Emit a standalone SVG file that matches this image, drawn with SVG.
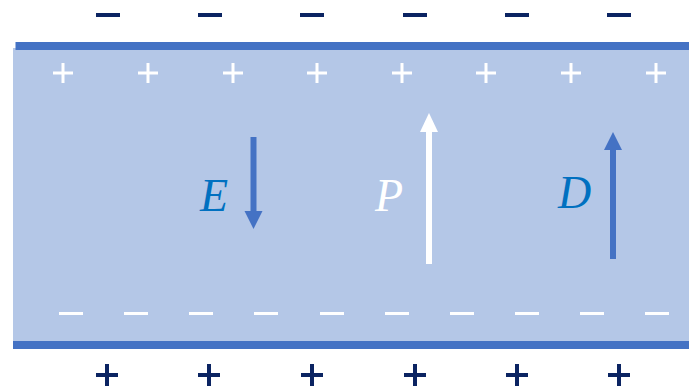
<svg xmlns="http://www.w3.org/2000/svg" width="689" height="389" viewBox="0 0 689 389">
<style>
.navy{stroke:#0B2462;stroke-width:4;fill:none}
.wh{stroke:#FFFFFF;stroke-width:3;fill:none}
.lbl{font-family:"Liberation Serif",serif;font-style:italic;font-size:46px}
</style>
<g id="slab">
<rect x="13" y="48" width="676" height="294" fill="#B4C7E7"/>
<rect x="15.5" y="42" width="673.5" height="8" fill="#4472C4"/>
<rect x="13" y="341" width="676" height="8" fill="#4472C4"/>
</g>
<g id="top-charges">
<path class="navy" d="M96,15h24M198,15h24M300,15h24M403,15h24M505,15h24M607,15h24"/>
</g>
<g id="surface-plus">
<path class="wh" d="M53,73h20M63,63v20M138,73h20M148,63v20M223,73h20M233,63v20M307,73h20M317,63v20M392,73h20M402,63v20M476,73h20M486,63v20M561,73h20M571,63v20M646,73h20M656,63v20"/>
</g>
<g id="surface-minus">
<path class="wh" d="M59,313.5h24M124,313.5h24M189,313.5h24M254,313.5h24M320,313.5h24M385,313.5h24M450,313.5h24M515,313.5h24M580,313.5h24M645,313.5h24"/>
</g>
<g id="bottom-charges">
<path class="navy" d="M96,375h22M107,364v22M198,375h22M209,364v22M301,375h22M312,364v22M404,375h22M415,364v22M506,375h22M517,364v22M608,375h22M619,364v22"/>
</g>
<g id="connectors">
<line x1="253.5" y1="137" x2="253.5" y2="212" stroke="#4472C4" stroke-width="6"/>
<path d="M244.5,211 L262.5,211 L253.5,229 Z" fill="#4472C4"/>
<line x1="429" y1="264" x2="429" y2="131" stroke="#FFFFFF" stroke-width="6"/>
<path d="M420,132 L438,132 L429,113 Z" fill="#FFFFFF"/>
<line x1="613" y1="259" x2="613" y2="149" stroke="#4472C4" stroke-width="6"/>
<path d="M604,150 L622,150 L613,132 Z" fill="#4472C4"/>
</g>
<g id="E"><text class="lbl" x="200" y="211" fill="#0070C0">E</text></g>
<g id="P"><text class="lbl" x="375" y="211" fill="#FFFFFF">P</text></g>
<g id="D"><text class="lbl" x="558" y="208" fill="#0070C0">D</text></g>
</svg>
